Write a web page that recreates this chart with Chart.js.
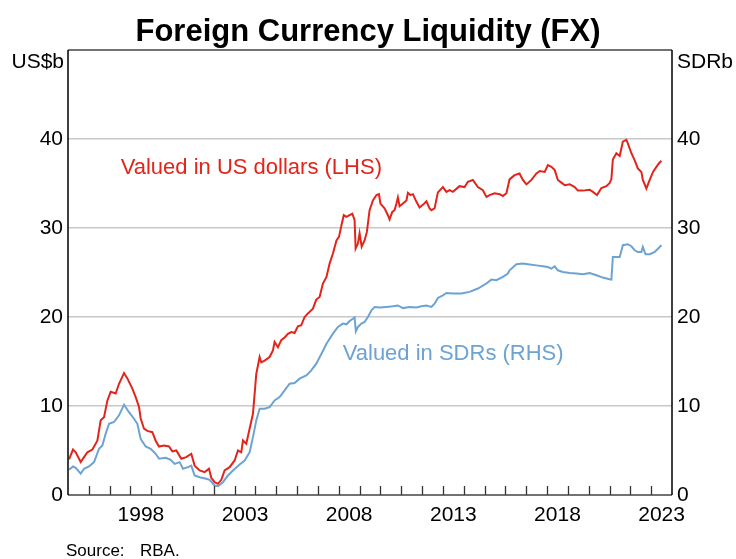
<!DOCTYPE html>
<html lang="en">
<head>
<meta charset="UTF-8" />
<title>Foreign Currency Liquidity (FX)</title>
<style>
  html, body { margin: 0; padding: 0; background: #fff; }
  #wrap { width: 736px; height: 559px; }
</style>
</head>
<body>
<div id="wrap"><canvas id="fxChart" width="736" height="559"></canvas></div>
<script src="https://cdn.jsdelivr.net/npm/chart.js@4/dist/chart.umd.min.js"></script>
<script>
// --- data (decimal years, US$b / SDRb) ---
const usdYears = [1995.05, 1995.24, 1995.37, 1995.61, 1995.77, 1995.93, 1996.17, 1996.41, 1996.57, 1996.73,
  1996.89, 1997.05, 1997.29, 1997.45, 1997.69, 1997.85, 1998.09, 1998.25, 1998.41, 1998.49,
  1998.65, 1998.81, 1999.05, 1999.21, 1999.37, 1999.61, 1999.85, 2000.01, 2000.20, 2000.44,
  2000.68, 2000.92, 2001.08, 2001.32, 2001.56, 2001.77, 2001.88, 2002.04, 2002.20, 2002.36,
  2002.52, 2002.76, 2003.00, 2003.16, 2003.32, 2003.40, 2003.56, 2003.72, 2003.88, 2004.04,
  2004.20, 2004.28, 2004.44, 2004.68, 2004.84, 2004.92, 2005.08, 2005.24, 2005.40, 2005.56,
  2005.72, 2005.88, 2006.04, 2006.20, 2006.36, 2006.52, 2006.76, 2006.92, 2007.08, 2007.24,
  2007.41, 2007.56, 2007.72, 2007.89, 2008.01, 2008.13, 2008.24, 2008.37, 2008.52, 2008.65,
  2008.76, 2008.81, 2008.92, 2009.00, 2009.10, 2009.24, 2009.35, 2009.48, 2009.64, 2009.81,
  2009.93, 2010.00, 2010.20, 2010.36, 2010.44, 2010.57, 2010.68, 2010.77, 2010.84, 2010.92,
  2011.08, 2011.25, 2011.32, 2011.44, 2011.56, 2011.73, 2011.88, 2012.04, 2012.21, 2012.36,
  2012.45, 2012.60, 2012.76, 2013.00, 2013.17, 2013.32, 2013.48, 2013.80, 2014.04, 2014.20,
  2014.44, 2014.68, 2014.92, 2015.09, 2015.24, 2015.48, 2015.73, 2015.88, 2016.05, 2016.20,
  2016.44, 2016.68, 2016.84, 2017.01, 2017.25, 2017.49, 2017.65, 2017.89, 2018.04, 2018.21,
  2018.37, 2018.52, 2018.69, 2018.85, 2019.09, 2019.33, 2019.48, 2019.72, 2020.05, 2020.20,
  2020.40, 2020.61, 2020.85, 2021.01, 2021.09, 2021.16, 2021.33, 2021.49, 2021.64, 2021.81,
  2021.88, 2022.05, 2022.21, 2022.36, 2022.53, 2022.60, 2022.77, 2022.93, 2023.09, 2023.25,
  2023.37, 2023.49];
const usdValues = [4.0, 5.1, 4.8, 3.7, 4.25, 4.8, 5.1, 6.1, 8.4, 8.75,
  10.6, 11.6, 11.4, 12.5, 13.7, 13.1, 11.95, 11.0, 9.9, 8.6,
  7.45, 7.2, 7.06, 6.1, 5.45, 5.57, 5.45, 4.9, 5.0, 4.07,
  4.25, 4.63, 3.3, 2.76, 2.57, 2.95, 1.93, 1.44, 1.26, 1.71,
  2.76, 3.13, 3.88, 5.0, 4.8, 6.13, 5.76, 7.45, 9.13, 13.6,
  15.5, 14.9, 15.1, 15.5, 16.25, 17.2, 16.6, 17.4, 17.7, 18.1,
  18.3, 18.2, 18.95, 19.07, 20.0, 20.4, 20.94, 21.96, 22.25, 23.76,
  24.5, 26.0, 27.13, 28.6, 29.0, 30.3, 31.44, 31.25, 31.44, 31.6,
  30.9, 27.7, 28.25, 29.4, 27.9, 28.6, 29.56, 32.0, 33.1, 33.7,
  33.8, 32.75, 32.2, 31.44, 30.96, 31.8, 32.0, 32.75, 33.43, 32.45,
  32.75, 33.1, 33.95, 33.7, 33.8, 32.94, 32.3, 32.6, 33.0, 32.2,
  32.0, 32.2, 34.0, 34.6, 34.06, 34.25, 34.06, 34.7, 34.6, 35.2,
  35.4, 34.6, 34.25, 33.5, 33.7, 33.9, 33.8, 33.6, 33.9, 35.46,
  35.94, 36.13, 35.4, 34.9, 35.4, 36.13, 36.4, 36.3, 37.06, 36.87,
  36.5, 35.4, 35.1, 34.8, 34.9, 34.6, 34.2, 34.2, 34.3, 34.06,
  33.7, 34.5, 34.7, 35.07, 35.5, 37.7, 38.4, 38.1, 39.7, 39.9,
  39.5, 38.4, 37.6, 36.7, 36.3, 35.4, 34.44, 35.4, 36.3, 36.87,
  37.25, 37.55];

const sdrYears = [1995.05, 1995.24, 1995.37, 1995.61, 1995.77, 1996.01, 1996.25, 1996.49, 1996.65, 1996.81,
  1996.97, 1997.21, 1997.45, 1997.69, 1997.93, 1998.17, 1998.33, 1998.49, 1998.73, 1998.97,
  1999.21, 1999.37, 1999.69, 1999.93, 2000.12, 2000.36, 2000.52, 2000.76, 2000.92, 2001.08,
  2001.32, 2001.64, 2001.80, 2002.04, 2002.20, 2002.44, 2002.68, 2002.92, 2003.24, 2003.48,
  2003.72, 2003.88, 2004.04, 2004.20, 2004.44, 2004.68, 2004.92, 2005.16, 2005.40, 2005.64,
  2005.88, 2006.12, 2006.44, 2006.68, 2006.92, 2007.17, 2007.41, 2007.72, 2007.96, 2008.20,
  2008.37, 2008.52, 2008.68, 2008.76, 2008.82, 2008.92, 2009.09, 2009.24, 2009.40, 2009.57,
  2009.72, 2009.96, 2010.29, 2010.60, 2010.84, 2011.08, 2011.40, 2011.73, 2011.97, 2012.21,
  2012.45, 2012.60, 2012.76, 2013.00, 2013.17, 2013.48, 2013.89, 2014.28, 2014.68, 2015.09,
  2015.33, 2015.57, 2015.88, 2016.12, 2016.20, 2016.53, 2016.84, 2017.17, 2017.49, 2017.80,
  2018.04, 2018.21, 2018.37, 2018.52, 2018.76, 2019.09, 2019.41, 2019.72, 2020.05, 2020.37,
  2020.68, 2021.00, 2021.09, 2021.16, 2021.49, 2021.64, 2021.88, 2022.05, 2022.21, 2022.36,
  2022.53, 2022.60, 2022.73, 2022.93, 2023.17, 2023.41, 2023.49];
const sdrValues = [2.83, 3.2, 3.05, 2.4, 2.95, 3.2, 3.7, 5.2, 5.57, 6.9,
  8.0, 8.2, 8.95, 10.15, 9.3, 8.57, 8.0, 6.3, 5.45, 5.2,
  4.63, 4.07, 4.18, 3.96, 3.5, 3.69, 2.95, 3.13, 3.3, 2.19,
  2.0, 1.82, 1.71, 1.07, 0.99, 1.44, 2.19, 2.76, 3.43, 3.88,
  4.8, 6.5, 8.38, 9.7, 9.7, 9.87, 10.63, 11.0, 11.75, 12.5,
  12.58, 13.07, 13.44, 14.0, 14.76, 15.88, 17.0, 18.13, 18.88, 19.26,
  19.18, 19.55, 19.8, 19.95, 18.4, 18.88, 19.26, 19.44, 20.0, 20.75,
  21.13, 21.06, 21.13, 21.2, 21.3, 21.0, 21.13, 21.06, 21.2, 21.3,
  21.13, 21.5, 22.14, 22.44, 22.7, 22.63, 22.63, 22.82, 23.2, 23.76,
  24.2, 24.13, 24.5, 24.88, 25.25, 25.93, 26.0, 25.9, 25.8, 25.7,
  25.62, 25.44, 25.7, 25.25, 25.06, 24.95, 24.88, 24.8, 24.95, 24.69,
  24.43, 24.24, 24.2, 26.75, 26.75, 28.07, 28.18, 27.95, 27.5, 27.3,
  27.3, 27.87, 27.05, 27.05, 27.3, 27.87, 28.07];

const xLabelYears = [1998, 2003, 2008, 2013, 2018, 2023];
const yTickValues = [0, 10, 20, 30, 40, 50];

const RED = '#e1251b';
const BLUE = '#6ca3d3';
const FONT = '"Liberation Sans", Arial, Helvetica, sans-serif';

Chart.defaults.font.family = FONT;
Chart.defaults.color = '#000';

// extra drawing: frame, inward year ticks, titles, notes
const decorations = {
  id: 'decorations',
  afterDraw(chart) {
    const { ctx, chartArea: a, scales } = chart;
    const x = scales.x, y = scales.y;
    ctx.save();

    // year ticks pointing up into the plot
    ctx.strokeStyle = '#333';
    ctx.lineWidth = 1.3;
    for (let yr = 1996; yr <= 2023; yr++) {
      const px = Math.round(x.getPixelForValue(yr)) + 0.5;
      ctx.beginPath();
      ctx.moveTo(px, a.bottom);
      ctx.lineTo(px, a.bottom - 9);
      ctx.stroke();
    }

    // frame
    ctx.lineWidth = 1.5;
    ctx.strokeStyle = '#444';
    ctx.beginPath();
    ctx.moveTo(a.left, a.top); ctx.lineTo(a.right, a.top);
    ctx.moveTo(a.left, a.bottom); ctx.lineTo(a.right, a.bottom);
    ctx.stroke();
    ctx.strokeStyle = '#000';
    ctx.beginPath();
    ctx.moveTo(a.left, a.top); ctx.lineTo(a.left, a.bottom);
    ctx.moveTo(a.right, a.top); ctx.lineTo(a.right, a.bottom);
    ctx.stroke();

    // title
    ctx.fillStyle = '#000';
    ctx.textAlign = 'center';
    ctx.textBaseline = 'alphabetic';
    ctx.font = 'bold 31px ' + FONT;
    ctx.fillText('Foreign Currency Liquidity (FX)', 368, 41);

    // units
    ctx.font = '21px ' + FONT;
    ctx.textBaseline = 'middle';
    ctx.textAlign = 'right';
    ctx.fillText('US$b', 64, 62);
    ctx.textAlign = 'left';
    ctx.fillText('SDRb', 677, 62);

    // series notes, placed on the data scales
    ctx.font = '22px ' + FONT;
    ctx.fillStyle = RED;
    ctx.fillText('Valued in US dollars (LHS)', x.getPixelForValue(1997.53), y.getPixelForValue(36.8));
    ctx.fillStyle = BLUE;
    ctx.fillText('Valued in SDRs (RHS)', x.getPixelForValue(2008.19), y.getPixelForValue(15.8));

    // source
    ctx.fillStyle = '#000';
    ctx.font = '17px ' + FONT;
    ctx.textBaseline = 'alphabetic';
    ctx.fillText('Source:', 66, 556);
    ctx.fillText('RBA.', 140, 556);

    ctx.restore();
  }
};

const usdData = usdYears.map((yr, i) => ({ x: yr, y: usdValues[i] }));
const sdrData = sdrYears.map((yr, i) => ({ x: yr, y: sdrValues[i] }));

const tickFont = { size: 21, family: FONT };

new Chart(document.getElementById('fxChart'), {
  type: 'line',
  data: {
    datasets: [
      {
        label: 'Valued in US dollars (LHS)',
        data: usdData,
        borderColor: RED,
        borderWidth: 2,
        pointRadius: 0,
        tension: 0,
        yAxisID: 'y'
      },
      {
        label: 'Valued in SDRs (RHS)',
        data: sdrData,
        borderColor: BLUE,
        borderWidth: 2,
        pointRadius: 0,
        tension: 0,
        yAxisID: 'y2'
      }
    ]
  },
  options: {
    responsive: false,
    animation: false,
    layout: { padding: { top: 50, right: 0, bottom: 0, left: 0 } },
    plugins: {
      legend: { display: false },
      tooltip: { enabled: false }
    },
    scales: {
      x: {
        type: 'linear',
        min: 1995,
        max: 2024,
        grid: { display: false, drawTicks: false },
        border: { display: false },
        afterBuildTicks: (scale) => {
          scale.ticks = xLabelYears.map(v => ({ value: v + 0.5 }));
        },
        ticks: {
          font: tickFont,
          color: '#000',
          padding: 8,
          maxRotation: 0,
          autoSkip: false,
          callback: (v) => String(Math.floor(v))
        },
        afterFit: (scale) => { scale.height = 64; }
      },
      y: {
        position: 'left',
        min: 0,
        max: 50,
        afterBuildTicks: (scale) => {
          scale.ticks = yTickValues.map(v => ({ value: v }));
        },
        grid: {
          drawTicks: false,
          lineWidth: 1.5,
          color: (c) => (c.tick && (c.tick.value === 0 || c.tick.value === 50)) ? 'rgba(0,0,0,0)' : '#c8c8c8'
        },
        border: { display: false },
        ticks: {
          font: tickFont,
          color: '#000',
          padding: 5,
          callback: (v) => v === 50 ? '' : v
        },
        afterFit: (scale) => { scale.width = 68; }
      },
      y2: {
        position: 'right',
        min: 0,
        max: 50,
        afterBuildTicks: (scale) => {
          scale.ticks = yTickValues.map(v => ({ value: v }));
        },
        grid: { display: false, drawTicks: false },
        border: { display: false },
        ticks: {
          font: tickFont,
          color: '#000',
          padding: 5,
          callback: (v) => v === 50 ? '' : v
        },
        afterFit: (scale) => { scale.width = 64; }
      }
    }
  },
  plugins: [decorations]
});
</script>
</body>
</html>
